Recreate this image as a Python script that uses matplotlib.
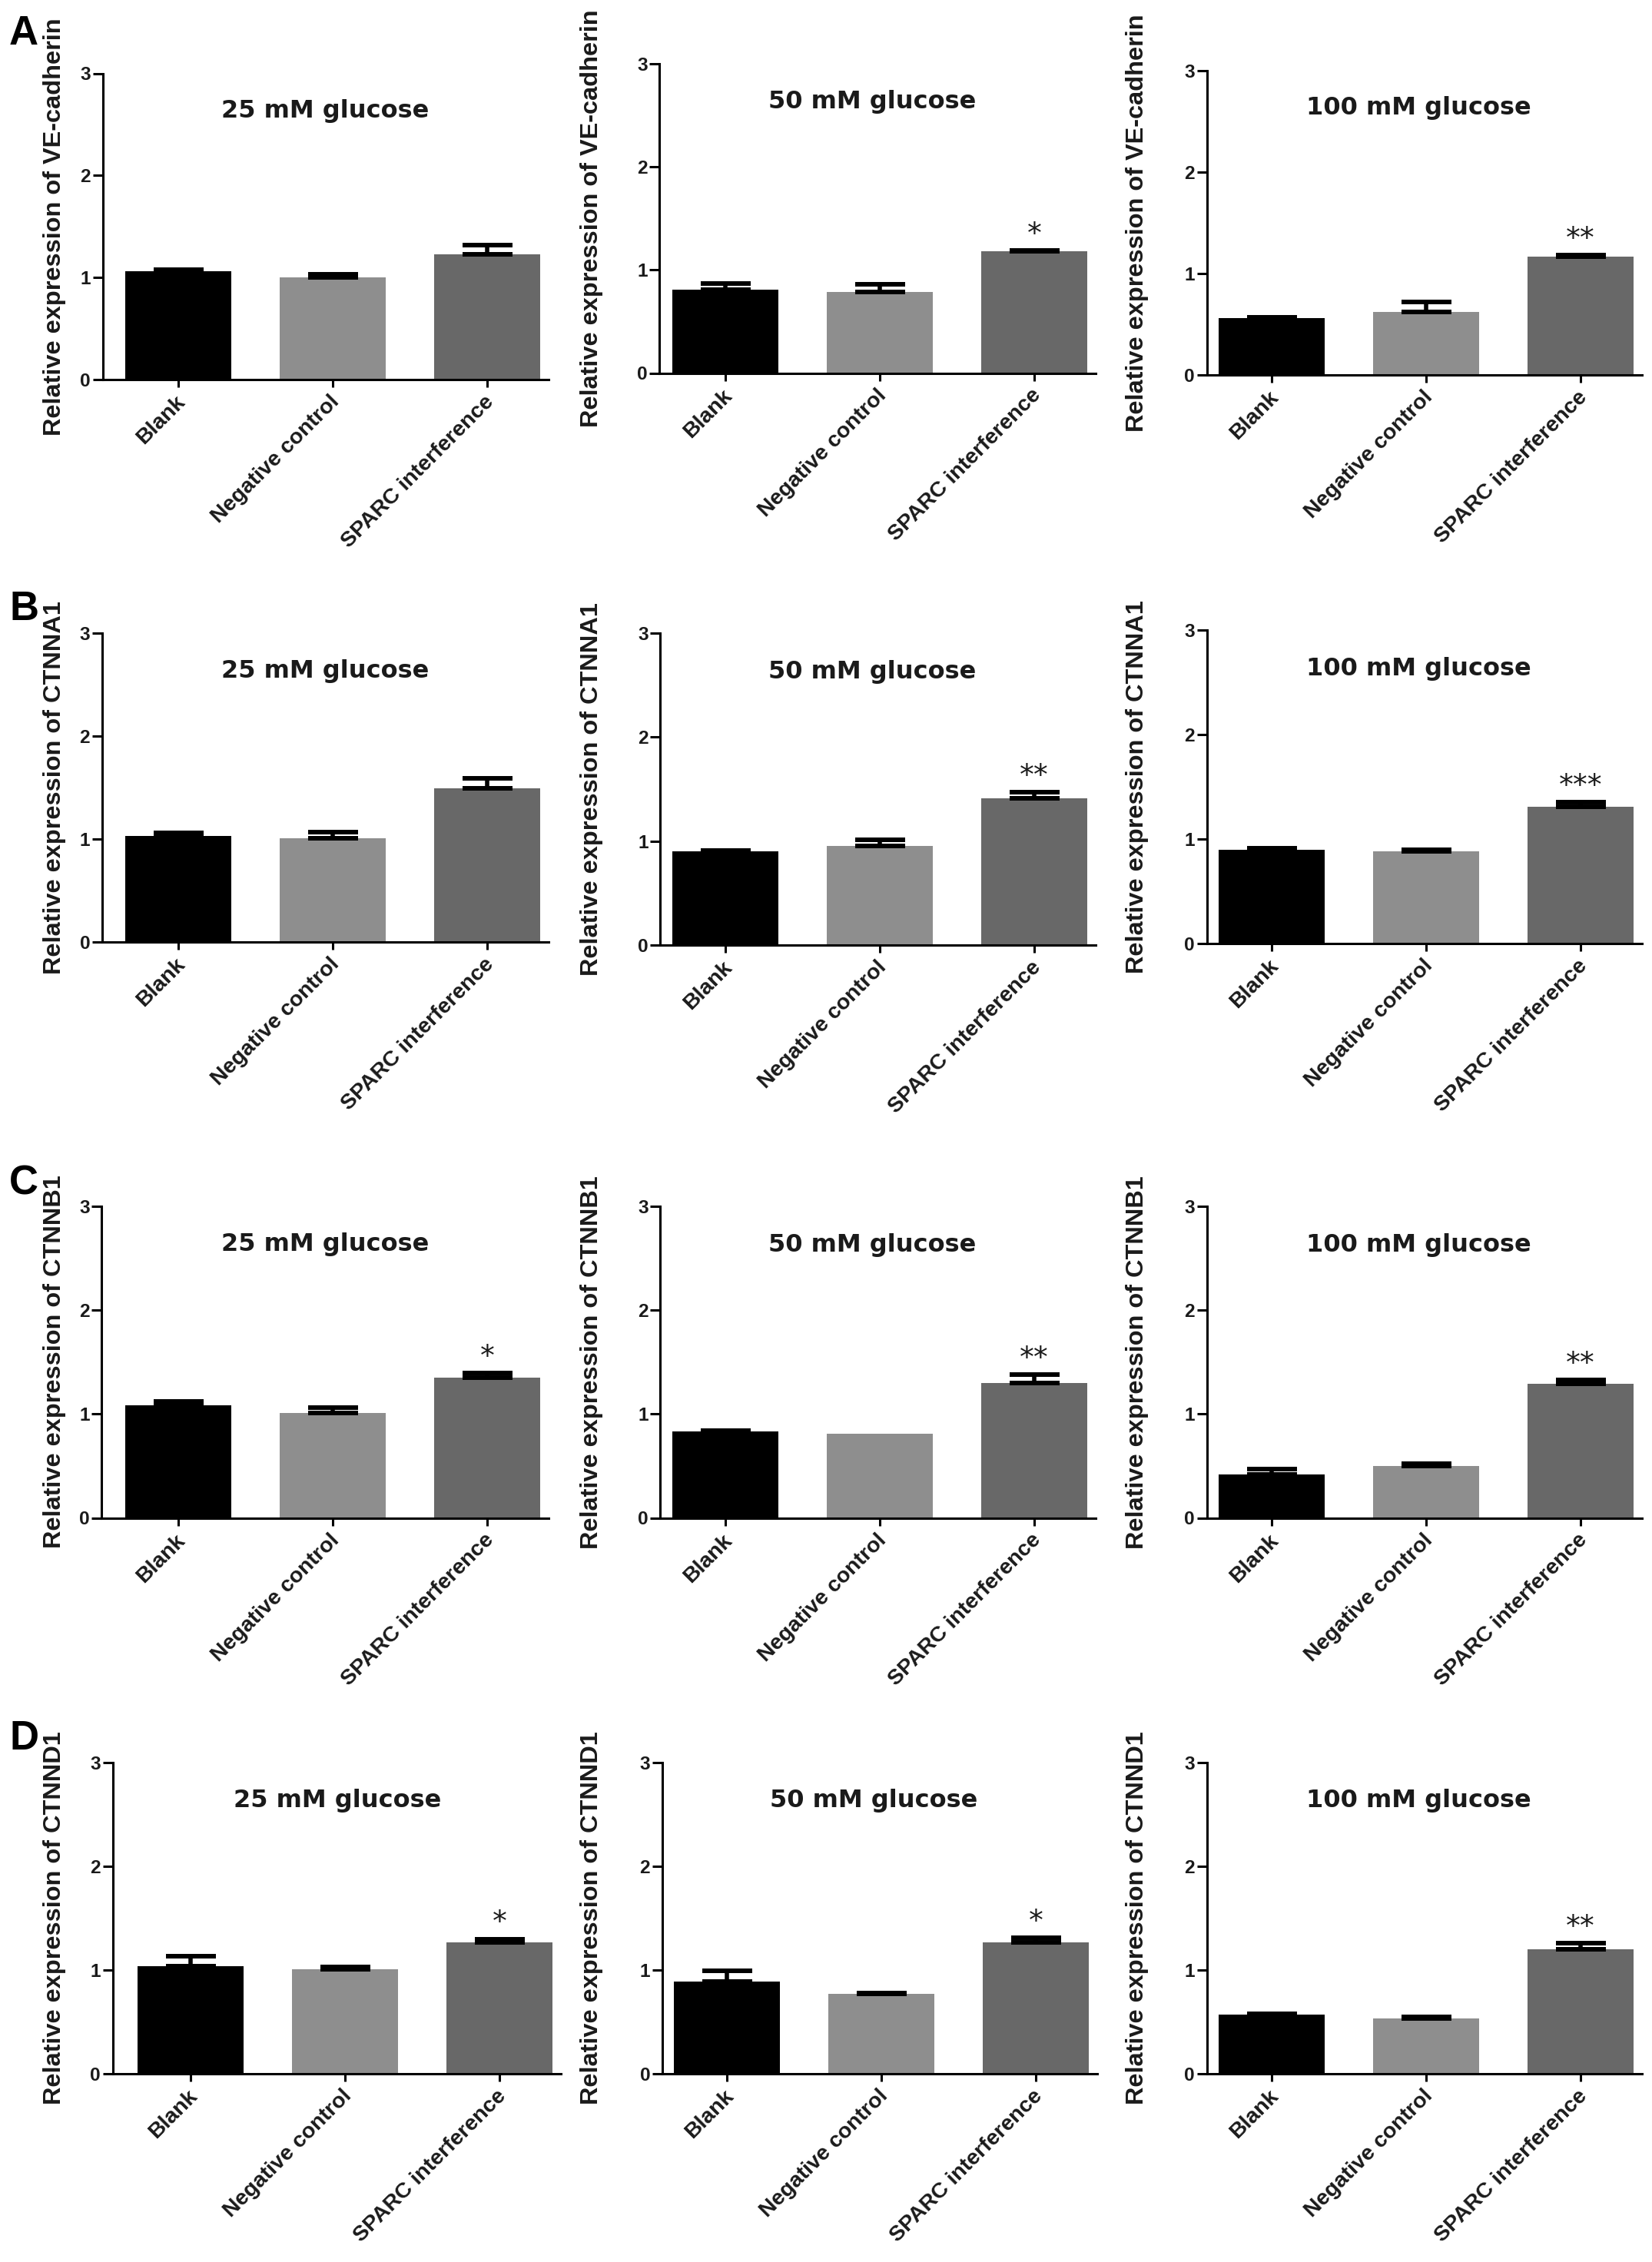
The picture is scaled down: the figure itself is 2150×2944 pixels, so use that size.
import matplotlib
matplotlib.use("Agg")
import matplotlib.pyplot as plt
import matplotlib.transforms as mtransforms
import numpy as np

# ---------------- data ----------------
categories = ["Blank", "Negative control", "SPARC interference"]
conditions = ["25 mM glucose", "50 mM glucose", "100 mM glucose"]
genes = ["VE-cadherin", "CTNNA1", "CTNNB1", "CTNND1"]
panel_letters = ["A", "B", "C", "D"]

# means [condition][category]
ve_mean = [[1.06, 1.00, 1.23], [0.81, 0.79, 1.18], [0.56, 0.62, 1.17]]
ve_err = [[0.02, 0.03, 0.09], [0.06, 0.07, 0.01], [0.01, 0.10, 0.01]]
ve_sig = ["", "*", "**"]

ctnna1_mean = [[1.03, 1.01, 1.49], [0.90, 0.95, 1.41], [0.90, 0.88, 1.31]]
ctnna1_err = [[0.03, 0.06, 0.10], [0.01, 0.06, 0.06], [0.01, 0.02, 0.04]]
ctnna1_sig = ["", "**", "***"]

ctnnb1_mean = [[1.08, 1.01, 1.35], [0.83, 0.81, 1.30], [0.42, 0.50, 1.29]]
ctnnb1_err = [[0.04, 0.05, 0.04], [0.01, 0.00, 0.08], [0.05, 0.02, 0.04]]
ctnnb1_sig = ["*", "**", "**"]

ctnnd1_mean = [[1.04, 1.01, 1.27], [0.89, 0.77, 1.27], [0.57, 0.53, 1.20]]
ctnnd1_err = [[0.09, 0.02, 0.03], [0.10, 0.01, 0.04], [0.01, 0.02, 0.06]]
ctnnd1_sig = ["*", "*", "**"]

y_ticks = [0, 1, 2, 3]

all_means = [ve_mean, ctnna1_mean, ctnnb1_mean, ctnnd1_mean]
all_errs = [ve_err, ctnna1_err, ctnnb1_err, ctnnd1_err]
all_sigs = [ve_sig, ctnna1_sig, ctnnb1_sig, ctnnd1_sig]

# ---------------- style / layout ----------------
bar_colors = ["#000000", "#8e8e8e", "#686868"]
text_color = "#1a1a1a"

W, H = 2150, 2944
left_px = [[133.7, 858.4, 1570.7], [133, 859.4, 1570.7],
           [132.4, 859.4, 1570.7], [146.7, 862, 1570.7]]
top_px = [[95.5, 83, 92], [824, 824, 820],
          [1569.5, 1570, 1570], [2294, 2294, 2294]]
bottom_px = [[494, 485.5, 488], [1226, 1230, 1228],
             [1975.5, 1975.5, 1975.5], [2699, 2699, 2699]]
first_center_px = [[232, 944, 1655], [232, 944, 1655],
                   [232, 944, 1655], [248, 946, 1655]]
ylabel_right_px = [86, 785, 1495]
letter_baseline_px = [58, 807, 1555, 2277]
step = 201.0

plt.rcParams['font.family'] = ['Liberation Sans', 'DejaVu Sans']
plt.rcParams['font.weight'] = 'bold'
plt.rcParams['text.color'] = text_color

fig = plt.figure(figsize=(W / 100, H / 100), dpi=100)
label_shift = mtransforms.ScaledTranslation(5 / 100, 0, fig.dpi_scale_trans)

x = np.arange(len(categories))

for r in range(4):
    for c in range(3):
        L = left_px[r][c]
        c0 = first_center_px[r][c]
        x_lo = (L - c0) / step
        x_hi = 2.4
        width = (x_hi - x_lo) * step
        top = top_px[r][c]
        bot = bottom_px[r][c]
        ax = fig.add_axes([L / W, 1 - bot / H, width / W, (bot - top) / H])
        ax.set_xlim(x_lo, x_hi)
        ax.set_ylim(0, 3)

        means = all_means[r][c]
        errs = all_errs[r][c]
        ax.bar(x, means, width=0.69, color=bar_colors, zorder=2, linewidth=0)
        for i in range(len(categories)):
            if errs[i] > 0:
                ax.errorbar(x[i], means[i], yerr=[[0], [errs[i]]], fmt='none',
                            ecolor='black', elinewidth=4, capsize=23.4,
                            capthick=4.3, zorder=3)
        sig = all_sigs[r][c]
        if sig:
            ax.text(2, means[2] + errs[2] + 0.075, sig, ha='center', va='baseline',
                    fontsize=27, family='DejaVu Sans', fontweight='normal',
                    color=text_color)

        ax.text(0.95, 2.63, conditions[c], ha='center', va='center',
                fontsize=23, family='DejaVu Sans', fontweight='bold',
                color=text_color)

        for s in ['top', 'right']:
            ax.spines[s].set_visible(False)
        for s in ['left', 'bottom']:
            ax.spines[s].set_linewidth(2.2)
            ax.spines[s].set_color('black')

        ax.set_yticks(y_ticks)
        ax.set_yticklabels([str(t) for t in y_ticks], fontsize=17.6,
                           fontweight='bold', color=text_color)
        ax.tick_params(axis='y', direction='out', length=9.4, width=2.2, pad=2)

        ax.set_xticks(x)
        ax.set_xticklabels(categories, rotation=45, ha='right', va='center',
                           rotation_mode='anchor', fontsize=20.5,
                           fontweight='bold', color=text_color)
        ax.tick_params(axis='x', direction='out', length=7.2, width=2.2, pad=11)
        for lbl in ax.get_xticklabels():
            lbl.set_transform(lbl.get_transform() + label_shift)

        ax.set_ylabel(f"Relative expression of {genes[r]}", fontsize=23.4,
                      fontweight='bold', color=text_color)
        ax.yaxis.set_label_coords((ylabel_right_px[c] - L) / width, 0.5)

    fig.text(12 / W, 1 - letter_baseline_px[r] / H, panel_letters[r],
             fontsize=38, fontweight='bold', ha='left', va='baseline',
             color='black')

fig.savefig("out.png", dpi=100, facecolor='white')
